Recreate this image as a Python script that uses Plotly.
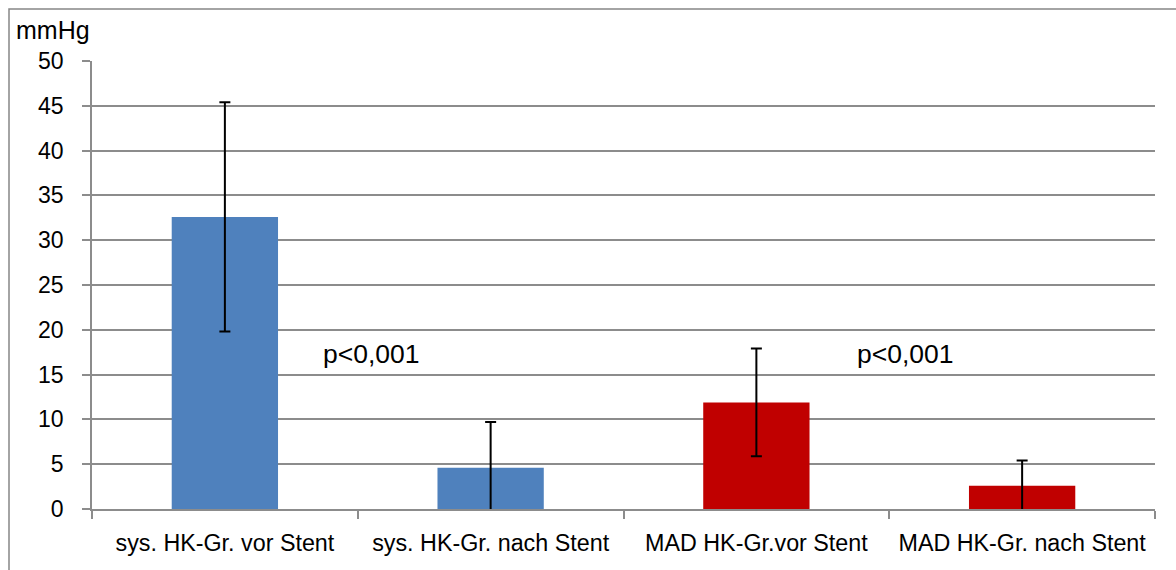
import plotly.graph_objects as go

categories = ["sys. HK-Gr. vor Stent", "sys. HK-Gr. nach Stent",
              "MAD HK-Gr.vor Stent", "MAD HK-Gr. nach Stent"]
values = [32.6, 4.6, 11.9, 2.6]
errors = [12.8, 5.1, 6.0, 2.8]
colors = ["#4F81BD", "#4F81BD", "#C00000", "#C00000"]
p_labels = ["p<0,001", "p<0,001"]
p_x = [0.55, 2.56]
p_y = [17.3, 17.3]
y_ticks = [0, 5, 10, 15, 20, 25, 30, 35, 40, 45, 50]

FONT = "Liberation Sans"
GRID = "#8c8c8c"

fig = go.Figure()
fig.add_trace(go.Bar(
    x=categories, y=values, width=0.4,
    marker=dict(color=colors, line=dict(width=0)),
    error_y=dict(type="data", array=errors, visible=True,
                 color="black", thickness=2, width=5.5),
    cliponaxis=True, showlegend=False,
))

for t, xx, yy in zip(p_labels, p_x, p_y):
    fig.add_annotation(x=xx, y=yy, xref="x", yref="y", text=t, showarrow=False,
                       font=dict(family=FONT, size=26.5, color="black"))

fig.add_annotation(x=-78/1063, y=(509-30)/448, xref="paper", yref="paper",
                   text="mmHg", showarrow=False, xanchor="left", yanchor="middle",
                   font=dict(family=FONT, size=25, color="black"))

fig.add_shape(type="rect", xref="paper", yref="paper",
              x0=(9-92)/1063, x1=(1185-92)/1063, y0=(509-580)/448, y1=(509-9)/448,
              line=dict(color="#868686", width=1.5), fillcolor="rgba(0,0,0,0)", layer="below")

fig.update_layout(
    width=1176, height=570,
    margin=dict(l=92, r=21, t=61, b=61),
    paper_bgcolor="white", plot_bgcolor="white",
    font=dict(family=FONT, color="black"),
    bargap=0.6,
)
fig.update_xaxes(
    type="category", showline=True, linecolor=GRID, linewidth=1.5,
    ticks="outside", ticklen=8, tickcolor=GRID, tickwidth=1.5, tickson="boundaries",
    showgrid=False, tickfont=dict(family=FONT, size=23.3, color="black"),
    mirror=False, ticklabelstandoff=12,
)
fig.update_yaxes(
    range=[0, 50], tickvals=y_ticks, showline=True, linecolor=GRID, linewidth=1.5,
    ticks="outside", ticklen=8, tickcolor=GRID, tickwidth=1.5,
    showgrid=True, gridcolor=GRID, gridwidth=1.5, zeroline=False,
    tickfont=dict(family=FONT, size=23, color="black"), ticklabelstandoff=14,
)

fig.write_html("out.html")
